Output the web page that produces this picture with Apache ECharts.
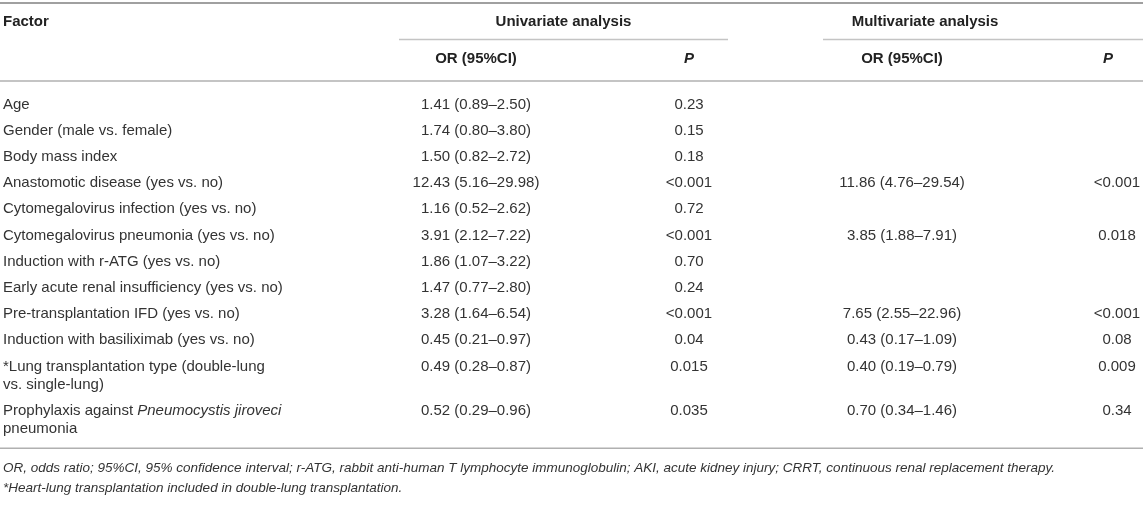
<!DOCTYPE html>
<html>
<head>
<meta charset="utf-8">
<script src="https://cdn.jsdelivr.net/npm/echarts@6/dist/echarts.min.js"></script>
<style>
  html, body { margin: 0; padding: 0; background: #fff; }
  #main { width: 1143px; height: 505px; }
</style>
</head>
<body>
<div id="main"></div>
<script>
// table content
const factors = [
    'Age',
    'Gender (male vs. female)',
    'Body mass index',
    'Anastomotic disease (yes vs. no)',
    'Cytomegalovirus infection (yes vs. no)',
    'Cytomegalovirus pneumonia (yes vs. no)',
    'Induction with r-ATG (yes vs. no)',
    'Early acute renal insufficiency (yes vs. no)',
    'Pre-transplantation IFD (yes vs. no)',
    'Induction with basiliximab (yes vs. no)',
    '*Lung transplantation type (double-lung\nvs. single-lung)',
    'Prophylaxis against {i|Pneumocystis jiroveci}\npneumonia'
];
const uniOR = ['1.41 (0.89–2.50)', '1.74 (0.80–3.80)', '1.50 (0.82–2.72)', '12.43 (5.16–29.98)',
    '1.16 (0.52–2.62)', '3.91 (2.12–7.22)', '1.86 (1.07–3.22)', '1.47 (0.77–2.80)',
    '3.28 (1.64–6.54)', '0.45 (0.21–0.97)', '0.49 (0.28–0.87)', '0.52 (0.29–0.96)'];
const uniP = ['0.23', '0.15', '0.18', '<0.001', '0.72', '<0.001', '0.70', '0.24',
    '<0.001', '0.04', '0.015', '0.035'];
const multiOR = ['', '', '', '11.86 (4.76–29.54)', '', '3.85 (1.88–7.91)', '', '',
    '7.65 (2.55–22.96)', '0.43 (0.17–1.09)', '0.40 (0.19–0.79)', '0.70 (0.34–1.46)'];
const multiP = ['', '', '', '<0.001', '', '0.018', '', '',
    '<0.001', '0.08', '0.009', '0.34'];
const groupTitles = ['Univariate analysis', 'Multivariate analysis'];
const colTitles = ['Factor', 'OR (95%CI)', 'P'];
const footnotes = [
    'OR, odds ratio; 95%CI, 95% confidence interval; r-ATG, rabbit anti-human T lymphocyte immunoglobulin; AKI, acute kidney injury; CRRT, continuous renal replacement therapy.',
    '*Heart-lung transplantation included in double-lung transplantation.'
];

// layout (pixel space of the page)
const W = 1143, H = 505;
const FONT = '"Liberation Sans", Arial, sans-serif';
const FS = 15;
const TXT = '#333';
const col = { factor: 3, uniOR: 476, uniP: 689, multiOR: 902, multiP: 1117 };
const head = { multiTitle: 925, multiP: 1108 };
const span = { uni: [399, 728], multi: [823, 1143] };
const firstRow = 104.5, rowPitch = 26.2, lineH = 18;

// centre of each row's first line, from the number of lines in the factor cell
const rowY = [];
let yy = firstRow;
factors.forEach(f => {
    rowY.push(yy);
    yy += rowPitch + (f.split('\n').length - 1) * lineH;
});
const lastLines = factors[factors.length - 1].split('\n').length;
const bottomRule = rowY[rowY.length - 1] + (lastLines - 1) * lineH + 19.5;

function txt(p, text, align, extra) {
    return {
        type: 'text', x: p[0], y: p[1],
        style: Object.assign({
            text: text, fill: TXT, fontSize: FS, fontFamily: FONT,
            align: align, verticalAlign: 'middle'
        }, extra || {})
    };
}
function rule(api, x0, x1, y, color, w) {
    const a = api.coord([x0, y]), b = api.coord([x1, y]);
    return { type: 'line', shape: { x1: a[0], y1: a[1], x2: b[0], y2: b[1] },
        style: { stroke: color, lineWidth: w } };
}

function renderRow(params, api) {
    const i = api.value(0);
    const y = rowY[i];
    const c = x => api.coord([x, y]);
    const top = api.coord([col.factor, y - lineH / 2]);
    const kids = [{
        type: 'text', x: top[0], y: top[1],
        style: {
            text: factors[i], fill: TXT, fontSize: FS, fontFamily: FONT,
            lineHeight: lineH, align: 'left', verticalAlign: 'top',
            rich: { i: { fontStyle: 'italic', fill: TXT, fontSize: FS, fontFamily: FONT, lineHeight: lineH } }
        }
    }];
    kids.push(txt(c(col.uniOR), uniOR[i], 'center'));
    kids.push(txt(c(col.uniP), uniP[i], 'center'));
    if (multiOR[i]) kids.push(txt(c(col.multiOR), multiOR[i], 'center'));
    if (multiP[i]) kids.push(txt(c(col.multiP), multiP[i], 'center'));
    return { type: 'group', children: kids };
}

function renderFrame(params, api) {
    const bold = { fontWeight: 'bold', fill: '#222' };
    const boldItalic = Object.assign({ fontStyle: 'italic' }, bold);
    const kids = [
        rule(api, 0, W, 3, '#a0a0a0', 2),
        rule(api, span.uni[0], span.uni[1], 39.5, '#c4c4c4', 1.3),
        rule(api, span.multi[0], span.multi[1], 39.5, '#c4c4c4', 1.3),
        rule(api, 0, W, 81, '#b0b0b0', 1.6),
        rule(api, 0, W, bottomRule, '#b0b0b0', 1.6),
        txt(api.coord([col.factor, 22]), colTitles[0], 'left', bold),
        txt(api.coord([(span.uni[0] + span.uni[1]) / 2, 22]), groupTitles[0], 'center', bold),
        txt(api.coord([head.multiTitle, 22]), groupTitles[1], 'center', bold),
        txt(api.coord([col.uniOR, 59]), colTitles[1], 'center', bold),
        txt(api.coord([col.uniP, 59]), colTitles[2], 'center', boldItalic),
        txt(api.coord([col.multiOR, 59]), colTitles[1], 'center', bold),
        txt(api.coord([head.multiP, 59]), colTitles[2], 'center', boldItalic)
    ];
    footnotes.forEach((f, k) => {
        kids.push(txt(api.coord([col.factor, bottomRule + 20 + k * 20]), f, 'left',
            { fontStyle: 'italic', fontSize: 13.5 }));
    });
    return { type: 'group', children: kids };
}

const chart = echarts.init(document.getElementById('main'), null, { renderer: 'canvas' });
chart.setOption({
    animation: false,
    backgroundColor: '#fff',
    grid: { left: 0, right: 0, top: 0, bottom: 0 },
    xAxis: { type: 'value', min: 0, max: W, show: false },
    yAxis: { type: 'value', min: 0, max: H, inverse: true, show: false },
    series: [
        {
            type: 'custom', name: 'frame', clip: false,
            data: [[0, 0]],
            encode: { x: 0, y: 1 },
            renderItem: renderFrame
        },
        {
            type: 'custom', name: 'rows', clip: false,
            data: factors.map((f, i) => [i, rowY[i]]),
            encode: { x: 0, y: 1 },
            renderItem: renderRow
        }
    ]
});
</script>
</body>
</html>
